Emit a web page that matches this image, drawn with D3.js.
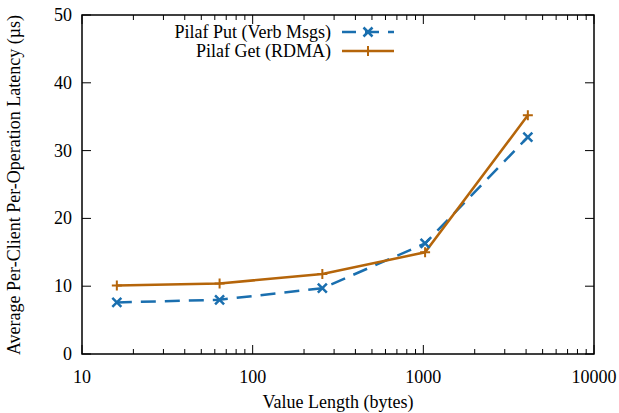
<html>
<head>
<script src="https://cdnjs.cloudflare.com/ajax/libs/d3/7.8.5/d3.min.js"></script>
<style>
  body { margin: 0; background: #fff; }
</style>
</head>
<body>
<div id="chart"></div>
<script>
// data
var sizes = [16, 64, 256, 1024, 4096];
var putLatency = [7.6, 8.0, 9.7, 16.3, 32.0];
var getLatency = [10.1, 10.4, 11.8, 15.0, 35.2];
var seriesNames = ["Pilaf Put (Verb Msgs)", "Pilaf Get (RDMA)"];
var xTicks = [10, 100, 1000, 10000];
var yTicks = [0, 10, 20, 30, 40, 50];

var width = 619, height = 413;
var plotLeft = 82, plotRight = 594, plotTop = 15, plotBottom = 354;
var fs = 18;

var svg = d3.select("#chart").append("svg")
    .attr("width", width)
    .attr("height", height)
    .attr("font-family", "Liberation Serif, DejaVu Serif, serif");

var x = d3.scaleLog().domain([10, 10000]).range([plotLeft, plotRight]);
var y = d3.scaleLinear().domain([0, 50]).range([plotBottom, plotTop]);

// minor ticks for log axis
var minor = [];
[10, 100, 1000].forEach(function(d) {
    for (var k = 2; k <= 9; k++) minor.push(d * k);
});

var ticks = svg.append("g").attr("stroke", "#000").attr("stroke-width", 1);
xTicks.forEach(function(v) {
    ticks.append("line").attr("x1", x(v)).attr("x2", x(v)).attr("y1", plotBottom).attr("y2", plotBottom - 9);
    ticks.append("line").attr("x1", x(v)).attr("x2", x(v)).attr("y1", plotTop).attr("y2", plotTop + 9);
});
minor.forEach(function(v) {
    ticks.append("line").attr("x1", x(v)).attr("x2", x(v)).attr("y1", plotBottom).attr("y2", plotBottom - 5);
    ticks.append("line").attr("x1", x(v)).attr("x2", x(v)).attr("y1", plotTop).attr("y2", plotTop + 5);
});
yTicks.forEach(function(v) {
    ticks.append("line").attr("x1", plotLeft).attr("x2", plotLeft + 9).attr("y1", y(v)).attr("y2", y(v));
    ticks.append("line").attr("x1", plotRight).attr("x2", plotRight - 9).attr("y1", y(v)).attr("y2", y(v));
});

// frame
svg.append("rect")
    .attr("x", plotLeft).attr("y", plotTop)
    .attr("width", plotRight - plotLeft).attr("height", plotBottom - plotTop)
    .attr("fill", "none").attr("stroke", "#000").attr("stroke-width", 1.5);

// tick labels
svg.append("g").selectAll("text").data(xTicks).enter().append("text")
    .attr("x", function(d) { return x(d); })
    .attr("y", plotBottom + 29)
    .attr("text-anchor", "middle")
    .attr("font-size", fs)
    .text(function(d) { return d; });

svg.append("g").selectAll("text").data(yTicks).enter().append("text")
    .attr("x", plotLeft - 10)
    .attr("y", function(d) { return y(d) + 6; })
    .attr("text-anchor", "end")
    .attr("font-size", fs)
    .text(function(d) { return d; });

// axis titles
svg.append("text")
    .attr("x", 338)
    .attr("y", 408)
    .attr("text-anchor", "middle")
    .attr("font-size", fs)
    .text("Value Length (bytes)");

svg.append("text")
    .attr("transform", "translate(20," + 185 + ") rotate(-90)")
    .attr("text-anchor", "middle")
    .attr("font-size", fs)
    .text("Average Per-Client Per-Operation Latency (µs)");

var blue = "#1a6faf", orange = "#b5650a";

var line = d3.line()
    .x(function(d) { return x(d[0]); })
    .y(function(d) { return y(d[1]); });

var putData = d3.zip(sizes, putLatency);
var getData = d3.zip(sizes, getLatency);

function crossMark(g, cx, cy, color) {
    g.append("path")
        .attr("d", "M" + (cx - 4.5) + "," + (cy - 4.5) + "L" + (cx + 4.5) + "," + (cy + 4.5) +
                   "M" + (cx - 4.5) + "," + (cy + 4.5) + "L" + (cx + 4.5) + "," + (cy - 4.5))
        .attr("stroke", color).attr("stroke-width", 2.5).attr("fill", "none");
}
function plusMark(g, cx, cy, color) {
    g.append("path")
        .attr("d", "M" + (cx - 5) + "," + cy + "L" + (cx + 5) + "," + cy +
                   "M" + cx + "," + (cy - 5) + "L" + cx + "," + (cy + 5))
        .attr("stroke", color).attr("stroke-width", 2).attr("fill", "none");
}

// put line (dashed)
svg.append("path")
    .datum(putData)
    .attr("fill", "none")
    .attr("stroke", blue)
    .attr("stroke-width", 2.5)
    .attr("stroke-dasharray", "15,9")
    .attr("d", line);

// get line
svg.append("path")
    .datum(getData)
    .attr("fill", "none")
    .attr("stroke", orange)
    .attr("stroke-width", 2.5)
    .attr("d", line);

var marks = svg.append("g");
putData.forEach(function(d) { crossMark(marks, x(d[0]), y(d[1]), blue); });
getData.forEach(function(d) { plusMark(marks, x(d[0]), y(d[1]), orange); });

// legend
var lg = svg.append("g");
var rows = [{ name: seriesNames[0], color: blue, dash: "15,9", mark: crossMark, yy: 32 },
            { name: seriesNames[1], color: orange, dash: null, mark: plusMark, yy: 51 }];
rows.forEach(function(r) {
    lg.append("text")
        .attr("x", 331).attr("y", r.yy + 6)
        .attr("text-anchor", "end")
        .attr("font-size", fs)
        .text(r.name);
    lg.append("line")
        .attr("x1", 342).attr("x2", 394)
        .attr("y1", r.yy).attr("y2", r.yy)
        .attr("stroke", r.color).attr("stroke-width", 2.5)
        .attr("stroke-dasharray", r.dash ? "14,9" : null);
    r.mark(lg, 368, r.yy, r.color);
});
</script>
</body>
</html>
